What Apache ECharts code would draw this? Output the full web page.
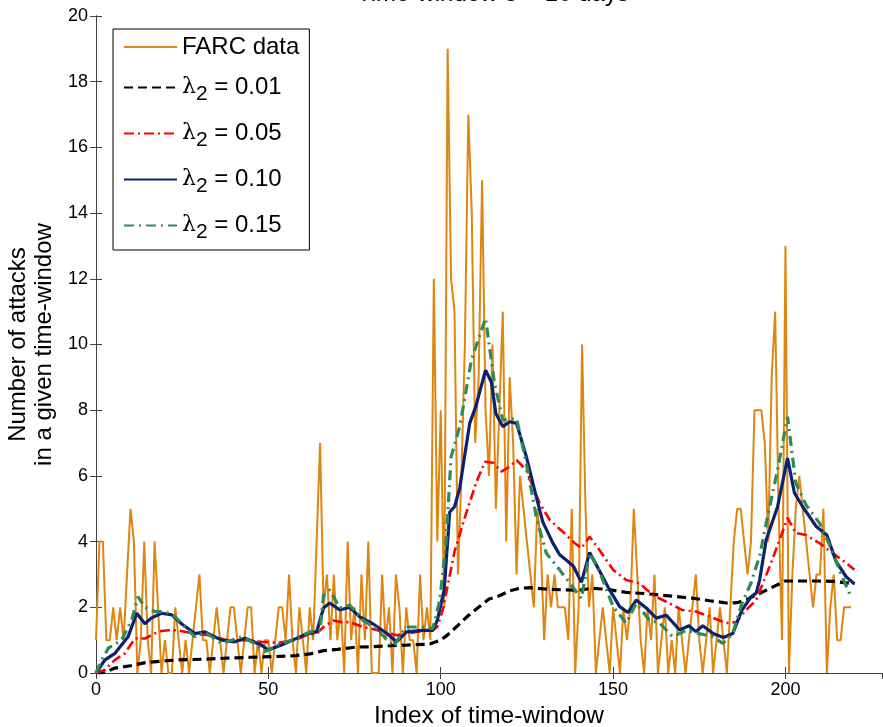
<!DOCTYPE html>
<html>
<head>
<meta charset="utf-8">
<script src="https://cdn.jsdelivr.net/npm/echarts@6/dist/echarts.min.js"></script>
<style>
  html, body { margin: 0; padding: 0; background: #fff; }
  #chart { width: 883px; height: 727px; }
</style>
</head>
<body>
<div id="chart"></div>
<script>
// FARC data: number of attacks per time-window, index 0..219
const farcCounts = [
  1, 4, 4, 1, 1, 2, 1, 2, 1, 3, 5, 4, 0, 1, 4, 1, 0, 4, 2, 0,
  1, 0, 0, 2, 1, 0, 1, 0, 1, 2, 3, 1, 1, 0, 1, 2, 1, 0, 1, 2,
  2, 1, 0, 1, 2, 2, 0, 1, 0, 1, 1, 0, 1, 2, 2, 1, 3, 1, 0, 2,
  1, 0, 2, 1, 4, 7, 2, 3, 1, 3, 1, 2, 0, 4, 1, 2, 0, 3, 1, 4,
  0, 0, 0, 3, 1, 2, 0, 3, 2, 0, 2, 1, 1, 0, 3, 1, 2, 1, 12, 4,
  8, 2, 19, 12, 11, 3, 6, 10, 17, 14, 7, 9, 15, 8, 6, 10, 5, 8, 11, 4,
  9, 7, 3, 6, 5, 4, 3, 2, 5, 4, 1, 3, 2, 3, 2, 2, 2, 1, 5, 0,
  2, 10, 5, 2, 3, 0, 1, 2, 1, 0, 2, 1, 0, 2, 1, 2, 5, 3, 1, 0,
  2, 1, 3, 0, 1, 2, 0, 1, 0, 2, 1, 0, 1, 2, 3, 1, 0, 1, 2, 0,
  1, 2, 1, 0, 2, 4, 5, 5, 4, 3, 4, 8, 8, 8, 7, 4, 9, 11, 5, 1,
  13, 0, 3, 5, 6, 5, 4, 3, 2, 3, 3, 5, 0, 2, 3, 1, 1, 2, 2, 2
];

// smoothed estimates as [index, value]
const lambda001 = [
  [0,0],[2.6,0.02],[5.5,0.15],[10,0.22],[14,0.31],[19,0.36],[24,0.4],[31,0.42],[38,0.45],
  [45,0.48],[52,0.5],[58,0.53],[62,0.58],[66,0.68],[70,0.72],[75.6,0.79],[80,0.8],[85,0.83],
  [90,0.85],[96.8,0.88],[100,1.0],[102,1.16],[105,1.45],[108,1.75],[111,2.0],[114,2.25],
  [117,2.35],[120,2.5],[123,2.58],[126,2.6],[131,2.55],[136,2.53],[140,2.52],[144,2.58],
  [148,2.55],[154,2.45],[159,2.42],[164,2.37],[169,2.32],[173,2.28],[178,2.2],[183,2.13],
  [186,2.14],[189,2.25],[192,2.4],[195,2.55],[198,2.7],[200,2.8],[205,2.8],[209,2.8],
  [214,2.79],[220,2.72]
];
const lambda005 = [
  [0,0],[2.6,0.1],[5.5,0.4],[8.4,0.6],[11.3,1.05],[14.2,1.05],[17,1.2],[19,1.28],[21,1.3],
  [23.8,1.3],[26,1.25],[28.7,1.2],[33,1.15],[38,1.0],[43,1.0],[48,0.95],[52.8,0.92],
  [57.7,1.0],[61,1.15],[64,1.2],[66,1.4],[68.8,1.6],[71,1.55],[73.6,1.55],[77.5,1.4],
  [80,1.35],[83.3,1.25],[87.2,1.15],[90,1.2],[93,1.25],[97.7,1.3],[99,1.4],[100.6,1.92],
  [102,2.65],[104,3.7],[107.4,4.87],[110.3,5.8],[112.8,6.43],[115.2,6.4],[117.6,6.13],
  [120,6.28],[122,6.48],[124.8,6.18],[128.7,5.17],[131.6,4.66],[135.4,4.3],[138.8,3.96],
  [140.8,3.8],[143.2,4.15],[146,3.75],[150,3.14],[153.8,2.83],[157.7,2.73],[161.5,2.37],
  [165.4,2.17],[170,1.92],[174,1.87],[178,1.72],[182.8,1.52],[185.7,1.55],[188.6,1.92],
  [191.5,2.22],[195.4,3.24],[198.3,4.05],[200.6,4.72],[203,4.26],[206,4.2],[209.9,3.95],
  [213.7,3.65],[217.6,3.35],[220,3.14]
];
const lambda010 = [
  [0,0],[2.6,0.4],[5.5,0.6],[9.3,1.1],[11.8,1.82],[14.2,1.5],[16,1.67],[19,1.82],[22,1.77],
  [24.8,1.5],[28.7,1.2],[31.6,1.25],[36.4,1.0],[40.3,0.95],[43.2,1.06],[48,0.85],[50,0.7],
  [53.8,0.85],[57,1.0],[61,1.19],[64,1.25],[66,1.98],[67.8,2.13],[70.7,1.92],[73.6,2.0],
  [76.5,1.71],[80.3,1.5],[84.3,1.21],[87.2,0.95],[90,1.25],[94.8,1.3],[97.7,1.3],[99,1.6],
  [101,2.53],[102.6,4.9],[104,5.06],[105.5,5.63],[108.4,7.6],[110.3,8.16],[113,9.22],
  [114.7,8.85],[116,7.9],[118,7.5],[120,7.65],[122,7.6],[124.8,6.6],[127.7,5.37],[129.6,4.6],
  [132.5,3.96],[134.5,3.6],[136.4,3.44],[138.5,3.25],[140.8,2.76],[143.2,3.67],[146,3.12],
  [149,2.53],[151.9,2.02],[154.3,1.84],[156.7,2.22],[159.6,1.98],[162.5,1.67],[165.4,1.76],
  [169.3,1.31],[172,1.44],[174,1.26],[176,1.44],[179,1.2],[182,1.08],[184.7,1.2],[187.3,1.9],
  [190,2.32],[191.5,2.43],[192.5,2.83],[194.4,4.05],[197.7,5.06],[200.6,6.54],[202.6,5.48],
  [205,5.06],[209,4.45],[212,4.2],[214.7,3.39],[217.6,2.93],[220,2.71]
];
const lambda015 = [
  [0,0],[1.7,0.4],[3.6,0.76],[7.4,1.0],[10.3,1.6],[12.2,2.32],[14.2,2.0],[17.1,1.87],[20,1.87],
  [22.9,1.72],[25.8,1.4],[28.7,1.1],[31.6,1.25],[36.4,0.9],[42.2,1.1],[46,0.9],[49,0.65],
  [53.8,0.9],[58,1.05],[62,1.25],[65,1.3],[66,2.37],[67.8,2.53],[70.7,1.98],[73.6,2.07],
  [77.5,1.6],[81.4,1.35],[86.2,0.8],[90,1.4],[94.8,1.4],[97.7,1.35],[99.7,2.2],[101.6,4.05],
  [103,6.58],[105.5,7.5],[108.9,9.53],[113,10.8],[115.6,8.82],[118,7.7],[122,7.75],[124.8,6.4],
  [127.7,4.76],[130.6,3.65],[134.5,3.14],[137.4,2.74],[140.8,2.27],[143.2,3.65],[146,3.1],
  [150,2.02],[153.8,1.52],[156.7,2.12],[160.6,1.6],[163.5,1.52],[167.3,1.1],[171.2,1.3],
  [175,1.2],[179,1.1],[181.8,0.9],[184.7,1.2],[187.3,2.1],[190,2.74],[191.5,3.24],[192.5,3.55],
  [194.4,4.56],[197.7,6.18],[200.6,7.8],[203,5.78],[206,5.11],[209.9,4.56],[213,3.85],
  [216,3.04],[219,2.32]
];

const seriesNames = ['FARC data', 'λ2 = 0.01', 'λ2 = 0.05', 'λ2 = 0.10', 'λ2 = 0.15'];
const xTicks = { min: 0, max: 228, interval: 50 };
const yTicks = { min: 0, max: 20, interval: 2 };

const font = 'Liberation Sans, Arial, sans-serif';
const chart = echarts.init(document.getElementById('chart'));

function line(name, data, color, width, dash) {
  return {
    name: name,
    type: 'line',
    data: data,
    showSymbol: false,
    symbol: 'none',
    animation: false,
    lineStyle: { color: color, width: width, type: dash || 'solid' },
    itemStyle: { color: color }
  };
}

const axisCommon = {
  axisLine: { show: true, lineStyle: { color: '#404040', width: 1 } },
  axisTick: { show: true, inside: true, length: 6, lineStyle: { color: '#404040' } },
  splitLine: { show: false }
};

chart.setOption({
  backgroundColor: '#fff',
  animation: false,
  textStyle: { fontFamily: font },
  title: {
    text: 'Time-window δ = 10 days',
    left: 352,
    top: -23,
    textStyle: { fontFamily: font, fontSize: 24, fontWeight: 'normal', color: '#000' }
  },
  grid: { left: 96, right: 1, top: 16, bottom: 54, outerBoundsMode: 'none', containLabel: false },
  legend: {
    left: 113,
    top: 29,
    orient: 'vertical',
    backgroundColor: '#fff',
    borderColor: '#000',
    borderWidth: 1,
    padding: [6, 10, 7, 10],
    itemWidth: 53,
    itemHeight: 14,
    itemGap: 11,
    itemStyle: { opacity: 0 },
    data: seriesNames,
    formatter: function (name) {
      if (name.charAt(0) === 'λ') {
        return '{g|λ}{s|2}{t|' + name.slice(2) + '}';
      }
      return '{f|' + name + '}';
    },
    textStyle: {
      fontFamily: font,
      fontSize: 24,
      color: '#000',
      rich: {
        f: { fontFamily: font, fontSize: 24, lineHeight: 24, color: '#000' },
        t: { fontFamily: font, fontSize: 24, lineHeight: 30, color: '#000' },
        g: { fontFamily: 'DejaVu Serif, serif', fontSize: 22, lineHeight: 30, color: '#000' },
        s: { fontFamily: font, fontSize: 21, lineHeight: 30, padding: [14, 0, 0, 0], color: '#000' }
      }
    }
  },
  xAxis: [Object.assign({
    type: 'value',
    min: xTicks.min, max: xTicks.max, interval: xTicks.interval,
    name: 'Index of time-window',
    nameLocation: 'middle',
    nameGap: 31,
    nameTextStyle: { fontFamily: font, fontSize: 24.5, color: '#000' },
    axisLabel: { fontFamily: font, fontSize: 18, color: '#000', margin: 8, showMaxLabel: false }
  }, axisCommon), Object.assign({
    type: 'value',
    position: 'top',
    min: xTicks.min, max: xTicks.max, interval: xTicks.interval,
    axisLabel: { show: false }
  }, axisCommon)],
  yAxis: [Object.assign({
    type: 'value',
    min: yTicks.min, max: yTicks.max, interval: yTicks.interval,
    name: 'Number of attacks\nin a given time-window',
    nameLocation: 'middle',
    nameGap: 38,
    nameTextStyle: { fontFamily: font, fontSize: 24, color: '#000', lineHeight: 26 },
    axisLabel: { fontFamily: font, fontSize: 18, color: '#000', margin: 8 }
  }, axisCommon), Object.assign({
    type: 'value',
    position: 'right',
    min: yTicks.min, max: yTicks.max, interval: yTicks.interval,
    axisLabel: { show: false }
  }, axisCommon)],
  series: [
    line(seriesNames[0], farcCounts.map(function (v, i) { return [i, v]; }), '#E0850F', 2),
    line(seriesNames[1], lambda001, '#000000', 3.2, [9, 5]),
    line(seriesNames[2], lambda005, '#FF0000', 2.6, [10, 4, 2, 4]),
    line(seriesNames[3], lambda010, '#0C2170', 3.2),
    line(seriesNames[4], lambda015, '#2E8B57', 3.2, [10, 5, 2, 5])
  ]
});
</script>
</body>
</html>
